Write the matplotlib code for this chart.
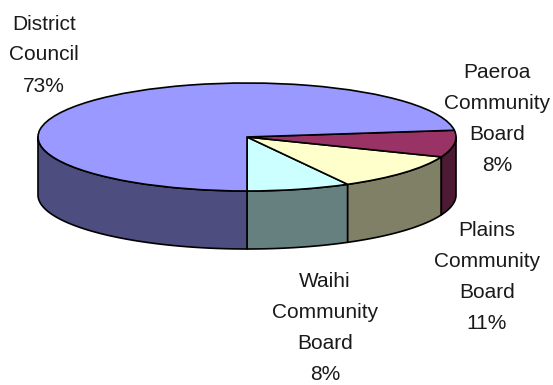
import numpy as np
from matplotlib import pyplot as plt

# Share of funding by board, counter-clockwise from straight down
names = ["Waihi\nCommunity\nBoard", "Plains\nCommunity\nBoard", "Paeroa\nCommunity\nBoard", "District\nCouncil"]
shares = [8, 11, 8, 73]
top_colors = ["#CCFFFF", "#FFFFCC", "#993366", "#9999FF"]
side_colors = ["#668080", "#808066", "#4D1A33", "#4D4D80"]
label_x = [325, 487, 497, 44]
label_y = [328, 277, 119, 55]

# Pie layout in pixels
WIDTH, HEIGHT = 553, 385
CX, CY = 247, 137
RX, RY = 209, 54
DEPTH = 58

plt.rcParams['font.family'] = ['Liberation Sans', 'DejaVu Sans']

fig = plt.figure(figsize=(WIDTH / 100, HEIGHT / 100), dpi=100)
ax = fig.add_axes([0, 0, 1, 1])

edge = dict(edgecolor="black", linewidth=1.2)
drop = DEPTH / RY


# Draw the wall under one stretch of rim
def drawWall(a, b, color):
    t = np.radians(np.linspace(a, b, 80))
    xs = np.cos(t)
    ys = np.sin(t)
    ax.fill(np.concatenate([xs, xs[::-1]]),
            np.concatenate([ys, ys[::-1] - drop]),
            facecolor=color, joinstyle="round", **edge)


# Only the rim between -180 and 0 degrees faces the viewer
start = -90
for share, color in zip(shares, side_colors):
    stop = start + share * 3.6
    for shift in (0, -360):
        a = max(start + shift, -180)
        b = min(stop + shift, 0)
        if a < b:
            drawWall(a, b, color)
    start = stop

# Top face
ax.pie(shares, colors=top_colors, startangle=-90, counterclock=True,
       radius=1, center=(0, 0), wedgeprops=edge)

ax.set_aspect("auto")
ax.set_xlim(-CX / RX, (WIDTH - CX) / RX)
ax.set_ylim((CY - HEIGHT) / RY, CY / RY)
ax.axis("off")

for name, share, x, y in zip(names, shares, label_x, label_y):
    ax.text((x - CX) / RX, (CY - y) / RY, "%s\n%d%%" % (name, share),
            ha="center", va="center", fontsize=15, linespacing=1.8,
            color="#1a1a1a")

fig.savefig("out.png", dpi=100)
